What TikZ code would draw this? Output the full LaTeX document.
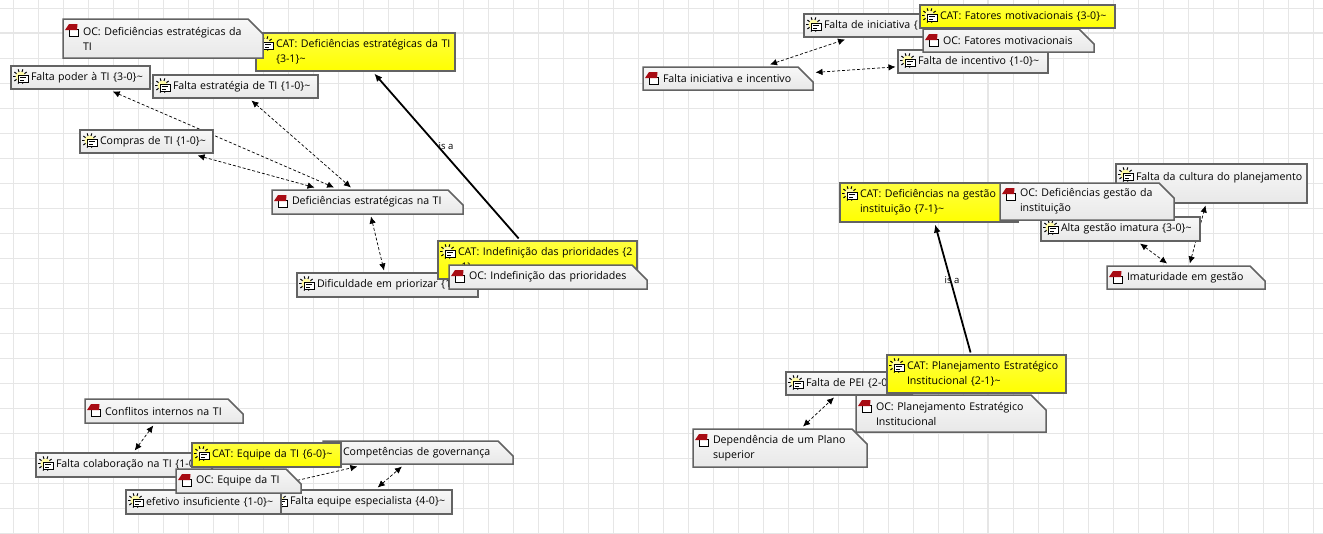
\documentclass[tikz,border=0pt]{standalone}
\usepackage{fontspec}
\setmainfont{Open Sans}
\usetikzlibrary{positioning,arrows.meta,backgrounds}
\definecolor{gridgray}{HTML}{E6E6E6}
\definecolor{boxgray}{HTML}{636363}
\definecolor{bookred}{HTML}{A80C14}
\makeatletter
% rectangle with the upper right corner cut off
\pgfdeclareshape{notebox}{
    \inheritsavedanchors[from=rectangle]
    \inheritanchorborder[from=rectangle]
    \inheritanchor[from=rectangle]{center}
    \inheritanchor[from=rectangle]{north west}
    \backgroundpath{
        \southwest \pgf@xa=\pgf@x \pgf@ya=\pgf@y
        \northeast \pgf@xb=\pgf@x \pgf@yb=\pgf@y
        \pgfmathsetlength\pgf@xc{\pgfkeysvalueof{/pgf/outer xsep}}
        \advance\pgf@xa by\pgf@xc \advance\pgf@xb by-\pgf@xc
        \advance\pgf@ya by\pgf@xc \advance\pgf@yb by-\pgf@xc
        \pgf@xc=\pgf@xb \advance\pgf@xc by-15pt
        \pgf@yc=\pgf@yb \advance\pgf@yc by-15pt
        \pgfpathmoveto{\pgfqpoint{\pgf@xa}{\pgf@ya}}
        \pgfpathlineto{\pgfqpoint{\pgf@xa}{\pgf@yb}}
        \pgfpathlineto{\pgfqpoint{\pgf@xc}{\pgf@yb}}
        \pgfpathlineto{\pgfqpoint{\pgf@xb}{\pgf@yc}}
        \pgfpathlineto{\pgfqpoint{\pgf@xb}{\pgf@ya}}
        \pgfpathclose
    }
}
\makeatother
\tikzset{
    codeicon/.pic={
        \foreach \a in {0,36,...,324}
            \draw[black, line width=1pt] (9.5,10.5) -- ++(\a:7.5);
        \fill[yellow!35!white] (9.5,10.5) circle (5);
        \draw[black, fill=white, line width=0.8pt] (7,9.5) rectangle (17,16.5);
        \draw[black, line width=0.7pt] (9,11.6) -- (15,11.6) (9,14) -- (13,14);
    },
    bookicon/.pic={
        \draw[black, fill=white, line width=1pt] (6.5,10) rectangle (15,17);
        \fill[bookred] (2,11) -- (6,5) -- (14.5,5) -- (14,11) -- cycle;
    },
    basebox/.style={anchor=north west, xshift=-2.5pt, yshift=2.5pt, draw=boxgray, line width=1.5pt, inner sep=2pt, outer sep=2.5pt,
        align=left, font=\fontsize{10.6}{15}\selectfont, execute at begin node={\leftskip=18pt\relax}},
    boxsize/.style 2 args={minimum width=#1, minimum height=#2, text width=#1-4},
    code/.style={basebox, shape=rectangle, top color=black!3, bottom color=black!9,
        append after command={pic[shift={(2.5,2.5)}] at (\tikzlastnode.north west) {codeicon}}},
    cat/.style={basebox, shape=rectangle, top color=yellow!75!white, bottom color=yellow,
        append after command={pic[shift={(2.5,2.5)}] at (\tikzlastnode.north west) {codeicon}}},
    note/.style={basebox, shape=notebox, top color=black!3, bottom color=black!9,
        append after command={pic[shift={(2.5,2.5)}] at (\tikzlastnode.north west) {bookicon}}},
    link/.style={<->, >={Latex[length=7pt,width=6.5pt]}, densely dashed, line width=0.7pt, black},
    isa/.style={<-, >={Latex[length=8pt,width=7pt]}, line width=1.8pt, black},
}
\begin{document}
\begin{tikzpicture}[x=1pt, y=-1pt]
    \useasboundingbox (0,0) rectangle (1323,533);

    % upper left group
    \node[cat, boxsize={199}{38}] (catEstrat) at (256,33) {CAT: Deficiências estratégicas da TI\\\{3-1\}\textasciitilde};
    \node[note, boxsize={200}{39}] (ocEstrat) at (63,19) {OC: Deficiências estratégicas da\\TI};
    \node[code, boxsize={139}{23}] (poderTI) at (11,66) {Falta poder à TI \{3-0\}\textasciitilde};
    \node[code, boxsize={165}{23}] (estratTI) at (153,75) {Falta estratégia de TI \{1-0\}\textasciitilde};
    \node[code, boxsize={133}{23}] (comprasTI) at (80,130) {Compras de TI \{1-0\}\textasciitilde};
    \node[note, boxsize={191}{24}] (defEstrat) at (272,190) {Deficiências estratégicas na TI};
    \node[code, boxsize={181}{24}] (priorizar) at (297,273) {Dificuldade em priorizar \{1};
    \node[cat, boxsize={199}{38}] (catIndef) at (438,241) {CAT: Indefinição das prioridades \{2\\-1\}\textasciitilde};
    \node[note, boxsize={198}{24}] (ocIndef) at (449,265) {OC: Indefinição das prioridades};

    % upper right group
    \node[code, boxsize={166}{23}] (faltaInic) at (804,14) {Falta de iniciativa \{1};
    \node[code, boxsize={150}{23}] (faltaIncent) at (898,50) {Falta de incentivo \{1-0\}\textasciitilde};
    \node[note, boxsize={171}{23}] (ocFatores) at (923,29) {OC: Fatores motivacionais};
    \node[cat, boxsize={195}{23}] (catFatores) at (920,5) {CAT: Fatores motivacionais \{3-0\}\textasciitilde};
    \node[note, boxsize={170}{23}] (inicIncent) at (643,67) {Falta iniciativa e incentivo};

    % middle right group
    \node[code, boxsize={191}{39}] (cultura) at (1116,164) {Falta da cultura do planejamento\\\mbox{}};
    \node[code, boxsize={159}{24}] (altaGestao) at (1041,217) {Alta gestão imatura \{3-0\}\textasciitilde};
    \node[cat, boxsize={178}{39}] (catGestao) at (840,183) {CAT: Deficiências na gestão\\instituição \{7-1\}\textasciitilde};
    \node[note, boxsize={174}{37}] (ocGestao) at (1000,183) {OC: Deficiências gestão da\\instituição};
    \node[note, boxsize={158}{23}] (imatGestao) at (1107,266) {Imaturidade em gestão};

    % lower right group
    \node[code, boxsize={126}{23}] (faltaPEI) at (786,372) {Falta de PEI \{2-0};
    \node[note, boxsize={190}{37}] (ocPlan) at (856,395) {OC: Planejamento Estratégico\\Institucional};
    \node[cat, boxsize={179}{38}] (catPlan) at (887,355) {CAT: Planejamento Estratégico\\Institucional \{2-1\}\textasciitilde};
    \node[note, boxsize={174}{38}] (depPlano) at (693,429) {Dependência de um Plano\\superior};

    % lower left group
    \node[note, boxsize={158}{24}] (conflitos) at (85,399) {Conflitos internos na TI};
    \node[code, boxsize={176}{24}] (faltaColab) at (36,453) {Falta colaboração na TI \{1-0};
    \node[note, boxsize={190}{23}] (competencias) at (323,441) {Competências de governança};
    \node[cat, boxsize={149}{24}] (catEquipe) at (192,443) {CAT: Equipe da TI \{6-0\}\textasciitilde};
    \node[code, boxsize={182}{24}] (faltaEquipe) at (270,490) {Falta equipe especialista \{4-0\}\textasciitilde};
    \node[code, boxsize={155}{24}] (efetivo) at (126,490) {efetivo insuficiente \{1-0\}\textasciitilde};
    \node[note, boxsize={125}{24}] (ocEquipe) at (176,469) {OC: Equipe da TI};

    \node[font=\fontsize{9.5}{11}\selectfont, inner sep=0pt] (isaOne) at (446,146) {is a};
    \node[font=\fontsize{9.5}{11}\selectfont, inner sep=0pt] (isaTwo) at (952,280) {is a};

    \begin{scope}[on background layer]
        \fill[white] (0,0) rectangle (1323,533);
        \foreach \gx in {0,...,52}
            \draw[gridgray, line width=0.7pt] (13+25*\gx,0) -- (13+25*\gx,533);
        \foreach \gy in {0,...,21}
            \draw[gridgray, line width=0.7pt] (0,8+25*\gy) -- (1323,8+25*\gy);
        \draw[gridgray, line width=2.4pt] (988,0) -- (988,533);
        \draw[gridgray, line width=2.4pt] (0,33) -- (1323,33);
        \draw[link] (poderTI) -- (defEstrat);
        \draw[link] (estratTI) -- (defEstrat);
        \draw[link] (comprasTI) -- (defEstrat);
        \draw[link] (defEstrat) -- (priorizar);
        \draw[link] (inicIncent) -- (faltaInic);
        \draw[link] (inicIncent) -- (faltaIncent);
        \draw[link] (altaGestao) -- (imatGestao);
        \draw[link] (imatGestao) -- (cultura);
        \draw[link] (depPlano) -- (faltaPEI);
        \draw[link] (conflitos) -- (faltaColab);
        \draw[link] (faltaEquipe) -- (competencias);
        \draw[link] (efetivo) -- (competencias);
        \draw[isa] (catEstrat) -- (catIndef);
        \draw[isa] (catGestao) -- (catPlan);
    \end{scope}
\end{tikzpicture}
\end{document}
